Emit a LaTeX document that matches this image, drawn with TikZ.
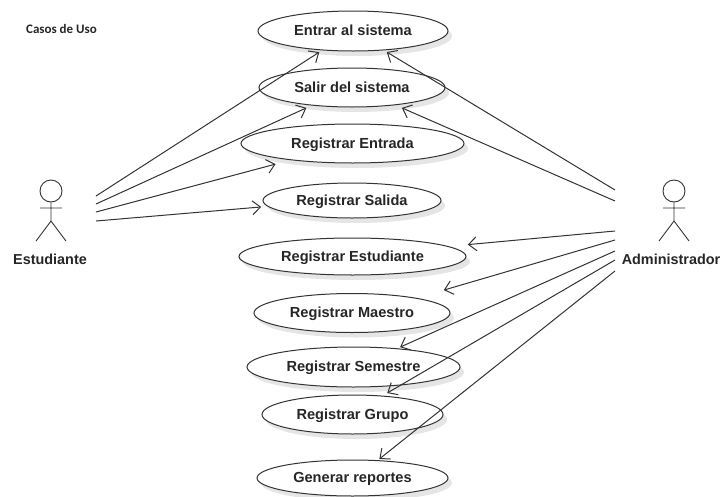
\documentclass[tikz,border=0pt]{standalone}
\usepackage{fontspec}
\setmainfont{Liberation Sans}
\newfontfamily\capfont{Carlito}
\usetikzlibrary{arrows.meta,shapes.geometric,shadows}
\definecolor{ink}{HTML}{333333}
\tikzset{
  usecase/.style={ellipse,draw=ink,line width=1pt,fill=white,inner sep=0pt,outer sep=0pt,
    font=\bfseries\fontsize{14.6}{16}\selectfont,text=black!85,text height=9.5pt,text depth=0pt,
    drop shadow={shadow xshift=4pt,shadow yshift=-5pt,fill=black!10,opacity=1}},
  actorlabel/.style={font=\bfseries\fontsize{14.4}{16}\selectfont,text=black!85,inner sep=0pt},
  actorline/.style={draw=ink,line width=0.9pt},
  assoc/.style={draw=ink,line width=1pt,-{Straight Barb[length=8pt,width=14pt,line width=1pt]}},
}
\begin{document}
\begin{tikzpicture}[x=1pt,y=-1pt]
\useasboundingbox (0,0) rectangle (721,496);
\node[font=\capfont\bfseries\fontsize{13}{15}\selectfont,text=black!85,inner sep=0pt] (title) at (61.5,28.5) {Casos de Uso};
% use cases
\node[usecase,minimum width=190pt,minimum height=40pt] (entrar) at (353,31) {Entrar al sistema};
\node[usecase,minimum width=186pt,minimum height=39pt] (salir) at (352,87.5) {Salir del sistema};
\node[usecase,minimum width=223pt,minimum height=39pt] (entrada) at (352.5,143.5) {Registrar Entrada};
\node[usecase,minimum width=178pt,minimum height=35pt] (salida) at (352,200.5) {Registrar Salida};
\node[usecase,minimum width=227pt,minimum height=37pt] (estudiante) at (352.5,256.5) {Registrar Estudiante};
\node[usecase,minimum width=196pt,minimum height=39pt] (maestro) at (352,313) {Registrar Maestro};
\node[usecase,minimum width=213pt,minimum height=40pt] (semestre) at (353.5,367) {Registrar Semestre};
\node[usecase,minimum width=181pt,minimum height=39pt] (grupo) at (352.5,414.5) {Registrar Grupo};
\node[usecase,minimum width=191pt,minimum height=36pt] (generar) at (352.5,478) {Generar reportes};
% actors
\node[actorlabel] (est) at (50,259) {Estudiante};
\node[actorlabel] (adm) at (671,259) {Administrador};
\node[circle,actorline,minimum size=22pt,inner sep=0pt] (esthead) at (51,191) {};
\node[circle,actorline,minimum size=22pt,inner sep=0pt] (admhead) at (674,191) {};
\coordinate (esthip) at (51,221);
\coordinate (admhip) at (674,221);
\coordinate (estarml) at (40,208);
\coordinate (estarmr) at (62,208);
\coordinate (admarml) at (663,208);
\coordinate (admarmr) at (685,208);
\coordinate (estfootl) at (36,241);
\coordinate (estfootr) at (66,241);
\coordinate (admfootl) at (659,241);
\coordinate (admfootr) at (689,241);
\draw[actorline] (esthead.south) -- (esthip) (estarml) -- (estarmr) (estfootl) -- (esthip) -- (estfootr);
\draw[actorline] (admhead.south) -- (admhip) (admarml) -- (admarmr) (admfootl) -- (admhip) -- (admfootr);
% free ends of the connectors
\coordinate (e1) at (96,196);
\coordinate (e2) at (96,204);
\coordinate (e3) at (96,212);
\coordinate (e4) at (96,221);
\coordinate (a1) at (615,190);
\coordinate (a2) at (615,201);
\coordinate (a3) at (615,231);
\coordinate (a4) at (615,240);
\coordinate (a5) at (615,251);
\coordinate (a6) at (615,260);
\coordinate (a7) at (615,271);
% connectors
\draw[assoc,shorten >=4pt] (e1) -- (entrar.212.3);
\draw[assoc,shorten >=6.6pt] (e2) -- (salir.204.5);
\draw[assoc,shorten >=16.5pt] (e3) -- (entrada.195.3);
\draw[assoc,shorten >=7pt] (e4) -- (salida.184.8);
\draw[assoc,shorten >=4pt] (a1) -- (entrar.328.2);
\draw[assoc,shorten >=7.7pt] (a2) -- (salir.338);
\draw[assoc,shorten >=20pt] (a3) -- (estudiante.6.4);
\draw[assoc,shorten >=29pt] (a4) -- (maestro.13.4);
\draw[assoc,shorten >=3.8pt] (a5) -- (semestre.23.7);
\draw[assoc,shorten >=6pt] (a6) -- (grupo.32.4);
\draw[assoc,shorten >=2.6pt] (a7) -- (generar.35.4);
\end{tikzpicture}
\end{document}
